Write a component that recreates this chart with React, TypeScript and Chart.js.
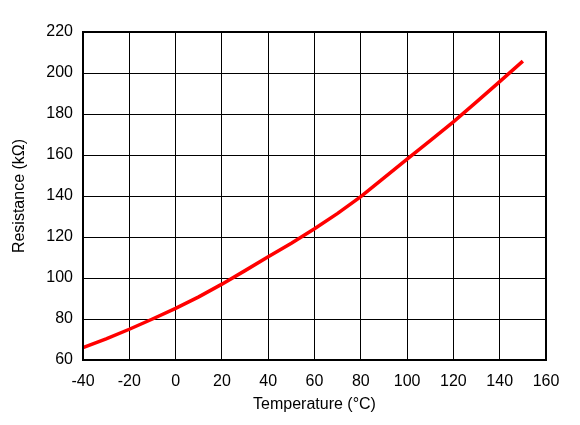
import React, { useEffect, useRef } from "react";
import { Chart, registerables } from "chart.js";

Chart.register(...registerables);

const temperatures = [-40, -30, -20, -10, 0, 10, 20, 30, 40, 50, 60, 70, 80, 90, 100, 110, 120, 130, 140, 150];
const resistance = [66, 70.3, 75, 80, 85.2, 90.8, 97, 103.6, 110.4, 117, 124, 131.5, 139.7, 148.8, 158, 167, 176.2, 185.9, 195.8, 205.8];
const xTicks = [-40, -20, 0, 20, 40, 60, 80, 100, 120, 140, 160];
const yTicks = [60, 80, 100, 120, 140, 160, 180, 200, 220];

const framePlugin = {
  id: "frame",
  afterDraw(chart: any) {
    const { ctx, chartArea } = chart;
    ctx.save();
    ctx.strokeStyle = "#000";
    ctx.lineWidth = 2;
    ctx.strokeRect(chartArea.left, chartArea.top, chartArea.right - chartArea.left, chartArea.bottom - chartArea.top);
    ctx.restore();
  },
};

export default function App() {
  const ref = useRef<HTMLCanvasElement>(null);
  useEffect(() => {
    const font = "'Liberation Sans', Arial, sans-serif";
    const chart = new Chart(ref.current!, {
      type: "line",
      data: {
        datasets: [
          {
            data: temperatures.map((t, i) => ({ x: t, y: resistance[i] })),
            borderColor: "#ff0000",
            borderWidth: 3.5,
            pointRadius: 0,
            tension: 0,
            fill: false,
          },
        ],
      },
      options: {
        responsive: false,
        animation: false,
        layout: { padding: { top: 32, right: 34, left: 0, bottom: 0 } },
        plugins: { legend: { display: false }, tooltip: { enabled: false } },
        scales: {
          x: {
            type: "linear",
            min: -40,
            max: 160,
            afterBuildTicks: (s: any) => { s.ticks = xTicks.map((v) => ({ value: v })); },
            afterFit: (s: any) => { s.height = 65; },
            grid: { color: "#000", lineWidth: 1, drawTicks: false },
            border: { display: false },
            ticks: { color: "#000", font: { family: font, size: 16 }, padding: 12, maxRotation: 0 },
            title: { display: true, text: "Temperature (°C)", color: "#000", font: { family: font, size: 16 }, padding: { top: 2, bottom: 11 } },
          },
          y: {
            min: 60,
            max: 220,
            afterBuildTicks: (s: any) => { s.ticks = yTicks.map((v) => ({ value: v })); },
            afterFit: (s: any) => { s.width = 83; },
            grid: { color: "#000", lineWidth: 1, drawTicks: false },
            border: { display: false },
            ticks: { color: "#000", font: { family: font, size: 16 }, padding: 10 },
            title: { display: true, text: "Resistance (kΩ)", color: "#000", font: { family: font, size: 16 }, padding: { top: 10, bottom: 4 } },
          },
        },
      },
      plugins: [framePlugin],
    });
    return () => chart.destroy();
  }, []);
  return (
    <div style={{ position: "fixed", left: 0, top: 0, width: 580, height: 425, background: "#fff" }}>
      <canvas ref={ref} width={580} height={425} style={{ width: 580, height: 425 }} />
    </div>
  );
}
